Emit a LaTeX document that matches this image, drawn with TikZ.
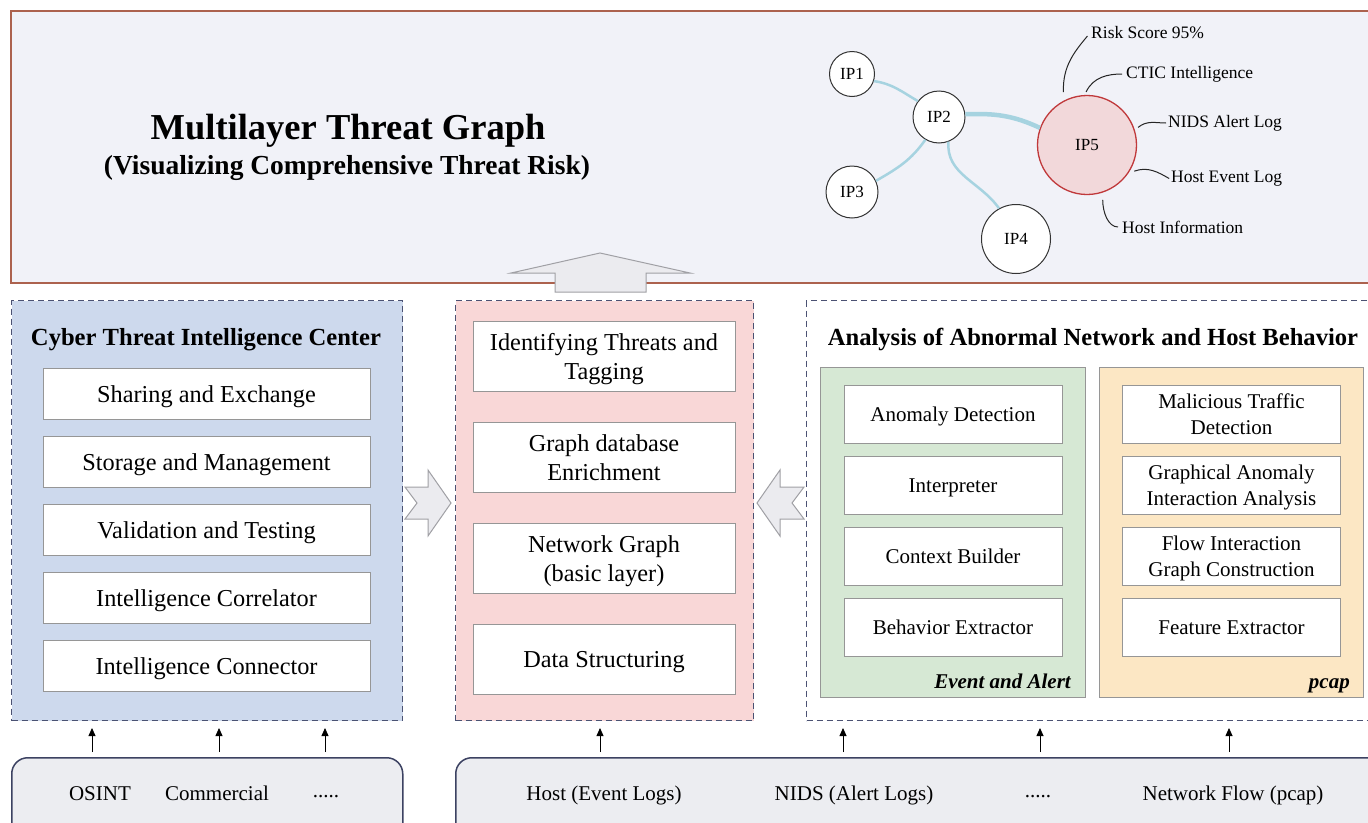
\documentclass[tikz,border=0pt]{standalone}
\usepackage{fontspec}
\setmainfont{Liberation Serif}
\usetikzlibrary{calc,arrows.meta}

\definecolor{topfill}{RGB}{241,242,248}
\definecolor{topline}{RGB}{172,98,78}
\definecolor{ctiblue}{RGB}{205,217,237}
\definecolor{midpink}{RGB}{249,215,215}
\definecolor{evgreen}{RGB}{214,232,212}
\definecolor{pcaporange}{RGB}{252,231,196}
\definecolor{dashline}{RGB}{75,82,115}
\definecolor{boxline}{RGB}{150,150,150}
\definecolor{srcfill}{RGB}{236,237,241}
\definecolor{srcline}{RGB}{60,66,98}
\definecolor{edgeblue}{RGB}{166,211,224}
\definecolor{ipfill}{RGB}{242,216,218}
\definecolor{ipline}{RGB}{192,57,59}
\definecolor{barrowfill}{RGB}{235,235,239}
\definecolor{barrowline}{RGB}{160,160,165}

\newcommand{\vstrutbox}{\rule[-0.22em]{0pt}{1.17em}}

\begin{document}
\begin{tikzpicture}[x=1pt,y=1pt,
 panel/.style={draw=dashline, dash pattern=on 6pt off 4pt, line width=1pt, anchor=north west, inner sep=0pt},
 ibox/.style={draw=boxline, fill=white, line width=1pt, align=center, inner sep=2pt},
 lbox/.style={ibox, minimum width=327pt, minimum height=51pt, font=\fontsize{24.3}{29}\selectfont},
 mbox/.style={ibox, minimum width=262pt, minimum height=70pt, font=\fontsize{24.3}{29}\selectfont},
 rbox/.style={ibox, minimum width=218pt, minimum height=58pt, font=\fontsize{21}{25.5}\selectfont},
 subbox/.style={draw=boxline, line width=1pt, anchor=north west, inner sep=0pt, minimum width=265pt, minimum height=330pt},
 hdr/.style={font=\bfseries\fontsize{24.6}{29}\selectfont, inner sep=0pt, anchor=base},
 tag/.style={font=\bfseries\itshape\fontsize{21}{25}\selectfont, inner sep=0pt, anchor=base east},
 src/.style={draw=srcline, fill=srcfill, line width=1.5pt, rounded corners=16pt, anchor=north west, inner sep=0pt, minimum height=90pt},
 srctext/.style={font=\fontsize{21}{25}\selectfont, inner sep=0pt, anchor=base},
 uparr/.style={-{Triangle[length=8pt,width=7pt]}, line width=0.8pt, black, shorten <=5pt, shorten >=7pt},
 ip/.style={circle, draw=black!80, fill=white, line width=1pt, font=\fontsize{17}{20}\selectfont, inner sep=0pt},
 edge/.style={draw=edgeblue, line width=2.5pt},
 lbl/.style={font=\fontsize{17.5}{20}\selectfont, anchor=west, inner sep=1pt},
 lline/.style={draw=black!85, line width=1pt},
 barrow/.style={fill=barrowfill, draw=barrowline, line width=1pt},
]
\useasboundingbox (0,0) rectangle (1368,-822);
\fill[white] (0,0) rectangle (1368,-822);

% ---------- top panel ----------
\node[draw=topline, fill=topfill, line width=1.5pt, anchor=north west, minimum width=1380pt, minimum height=272pt, inner sep=0pt] (top) at (10,-10) {};
\node[font=\bfseries\fontsize{36.5}{40}\selectfont, anchor=base, inner sep=0pt] (title) at (348,-139) {Multilayer Threat Graph};
\node[font=\bfseries\fontsize{27.5}{30}\selectfont, anchor=base, inner sep=0pt] (subtitle) at (347,-174) {(Visualizing Comprehensive Threat Risk)};

% graph
\node[ip, minimum size=45pt] (ip1) at (852,-74) {IP1};
\node[ip, minimum size=52pt] (ip2) at (939,-117) {IP2};
\node[ip, minimum size=52pt] (ip3) at (852,-192) {IP3};
\node[ip, minimum size=69pt] (ip4) at (1016,-239) {IP4};
\node[ip, minimum size=99pt, fill=ipfill, draw=ipline, line width=1.3pt] (ip5) at (1087,-145) {IP5};

\draw[edge] (ip1.-18) to[out=-8, in=150] (ip2.143);
\draw[edge] (ip2.-121) to[out=-125, in=30] (ip3.25);
\draw[edge] (ip2.-69) to[out=-95, in=125] (ip4.119);
\draw[edge, line width=4.5pt] (ip2.6) to[out=2, in=155] (ip5.160);

\node[lbl] (l1) at (1090,-33) {Risk Score 95\%};
\node[lbl] (l2) at (1125,-74) {CTIC Intelligence};
\node[lbl] (l3) at (1167,-123) {NIDS Alert Log};
\node[lbl] (l4) at (1170,-179) {Host Event Log};
\node[lbl] (l5) at (1121,-227) {Host Information};

\draw[lline, shorten >=4pt] ($(ip5)+(114:58)$) to[out=92, in=230] (l1.west);
\draw[lline, shorten >=3pt] ($(ip5)+(91:53)$) to[out=65, in=180] (l2.west);
\draw[lline, shorten >=1pt] ($(ip5)+(19:54)$) to[out=40, in=180] (l3.west);
\draw[lline, shorten >=1pt] ($(ip5)+(-29:54)$) to[out=20, in=150] (l4.west);
\draw[lline, shorten >=3pt] ($(ip5)+(-74:57)$) to[out=-90, in=180] (l5.west);

% up block arrow
\draw[barrow] (555,-292) -- (555,-273) -- (511,-273) -- (600,-253) -- (690,-273) -- (646,-273) -- (646,-292) -- cycle;

% ---------- left panel ----------
\node[panel, fill=ctiblue, minimum width=391pt, minimum height=420pt] (cti) at (11,-300) {};
\node[hdr] (ctihdr) at (206,-345) {Cyber Threat Intelligence Center};
\node[lbox] (c1) at (206.5,-393.5) {\vstrutbox Sharing and Exchange\vstrutbox};
\node[lbox] (c2) at (206.5,-461.5) {\vstrutbox Storage and Management\vstrutbox};
\node[lbox] (c3) at (206.5,-529.5) {\vstrutbox Validation and Testing\vstrutbox};
\node[lbox] (c4) at (206.5,-597.5) {\vstrutbox Intelligence Correlator\vstrutbox};
\node[lbox] (c5) at (206.5,-665.5) {\vstrutbox Intelligence Connector\vstrutbox};

% ---------- middle panel ----------
\node[panel, fill=midpink, minimum width=298pt, minimum height=420pt] (mid) at (455,-300) {};
\node[mbox] (m1) at (604,-356) {\vstrutbox Identifying Threats and\\Tagging\vstrutbox};
\node[mbox] (m2) at (604,-457) {\vstrutbox Graph database\\Enrichment\vstrutbox};
\node[mbox] (m3) at (604,-558) {\vstrutbox Network Graph\\(basic layer)\vstrutbox};
\node[mbox] (m4) at (604,-659) {\vstrutbox Data Structuring\vstrutbox};

% ---------- right panel ----------
\node[panel, fill=white, minimum width=580pt, minimum height=420pt] (ana) at (806,-300) {};
\node[hdr] (anahdr) at (1093,-345) {Analysis of Abnormal Network and Host Behavior};
\node[subbox, fill=evgreen] (ev) at (820,-367) {};
\node[subbox, fill=pcaporange, minimum width=264pt] (pc) at (1099,-367) {};
\node[rbox] (e1) at (953,-414) {\vstrutbox Anomaly Detection\vstrutbox};
\node[rbox] (e2) at (953,-485) {\vstrutbox Interpreter\vstrutbox};
\node[rbox] (e3) at (953,-556) {\vstrutbox Context Builder\vstrutbox};
\node[rbox] (e4) at (953,-627) {\vstrutbox Behavior Extractor\vstrutbox};
\node[rbox] (p1) at (1231.5,-414) {\vstrutbox Malicious Traffic\\Detection\vstrutbox};
\node[rbox] (p2) at (1231.5,-485) {\vstrutbox Graphical Anomaly\\Interaction Analysis\vstrutbox};
\node[rbox] (p3) at (1231.5,-556) {\vstrutbox Flow Interaction\\Graph Construction\vstrutbox};
\node[rbox] (p4) at (1231.5,-627) {\vstrutbox Feature Extractor\vstrutbox};
\node[tag] (evtag) at (1071,-688) {Event and Alert};
\node[tag] (pctag) at (1350,-688) {pcap};

% chevron arrows
\draw[barrow] (405,-487) -- (428,-487) -- (428,-470) -- (451,-503) -- (428,-536) -- (428,-519) -- (405,-519) -- (417,-503) -- cycle;
\draw[barrow] (804,-487) -- (780,-487) -- (780,-470) -- (757,-503) -- (780,-536) -- (780,-519) -- (804,-519) -- (792,-503) -- cycle;

% ---------- sources ----------
\node[src, minimum width=391pt] (srcl) at (11,-757) {};
\node[src, minimum width=930pt] (srcr) at (455,-757) {};
\node[srctext] (s1) at (100,-800) {OSINT};
\node[srctext] (s2) at (217,-800) {Commercial};
\node[srctext] (s3) at (326,-797) {.....};
\node[srctext] (s4) at (604,-800) {Host (Event Logs)};
\node[srctext] (s5) at (854,-800) {NIDS (Alert Logs)};
\node[srctext] (s6) at (1038,-797) {.....};
\node[srctext] (s7) at (1233,-800) {Network Flow (pcap)};

\coordinate (a1) at (92,0);
\coordinate (a2) at (219,0);
\coordinate (a3) at (325,0);
\coordinate (a4) at (600,0);
\coordinate (a5) at (843,0);
\coordinate (a6) at (1040,0);
\coordinate (a7) at (1229,0);
\draw[uparr] (srcl.north -| a1) -- (cti.south -| a1);
\draw[uparr] (srcl.north -| a2) -- (cti.south -| a2);
\draw[uparr] (srcl.north -| a3) -- (cti.south -| a3);
\draw[uparr] (srcr.north -| a4) -- (mid.south -| a4);
\draw[uparr] (srcr.north -| a5) -- (ana.south -| a5);
\draw[uparr] (srcr.north -| a6) -- (ana.south -| a6);
\draw[uparr] (srcr.north -| a7) -- (ana.south -| a7);
\end{tikzpicture}
\end{document}
